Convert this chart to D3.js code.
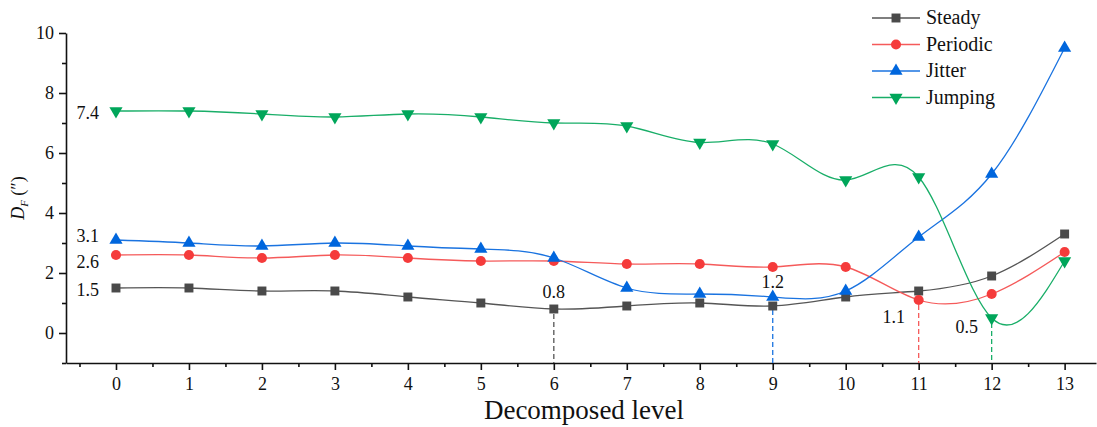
<!DOCTYPE html>
<meta charset="utf-8">
<title>DF vs decomposed level</title>
<style>
*{ margin: 0; padding: 0; }
body{ background: #fff; }
svg text{ font-family: "Liberation Serif", "DejaVu Serif", serif; fill: #111; }
.axis path, .axis line{ stroke: #111; stroke-width: 1.6; }
</style>
<body>
<script src="https://d3js.org/d3.v7.min.js"></script>
<div id="chart"></div>
<script>

var levels = [0,1,2,3,4,5,6,7,8,9,10,11,12,13];
var steady   = [1.5,1.5,1.4,1.4,1.2,1.0,0.8,0.9,1.0,0.9,1.2,1.4,1.9,3.3];
var periodic = [2.6,2.6,2.5,2.6,2.5,2.4,2.4,2.3,2.3,2.2,2.2,1.1,1.3,2.7];
var jitter   = [3.1,3.0,2.9,3.0,2.9,2.8,2.5,1.5,1.3,1.2,1.4,3.2,5.3,9.5];
var jumping  = [7.4,7.4,7.3,7.2,7.3,7.2,7.0,6.9,6.35,6.3,5.1,5.2,0.5,2.4];

var seriesNames = ["Steady", "Periodic", "Jitter", "Jumping"];
var xTicks = [0,1,2,3,4,5,6,7,8,9,10,11,12,13];
var yTicks = [0,2,4,6,8,10];

// labels beside the first points and near the minima
var startLabels = [
  {series: "Jumping", text: "7.4"},
  {series: "Jitter", text: "3.1"},
  {series: "Periodic", text: "2.6"},
  {series: "Steady", text: "1.5"}
];
var minLabels = [
  {series: "Steady", level: 6, text: "0.8"},
  {series: "Jitter", level: 9, text: "1.2"},
  {series: "Periodic", level: 11, text: "1.1"},
  {series: "Jumping", level: 12, text: "0.5"}
];

var width = 1097, height = 427;

var x = d3.scaleLinear().domain([-0.685, 13.43]).range([66, 1096]);
var y = d3.scaleLinear().domain([-1, 10]).range([363, 33]);

var svg = d3.select("#chart").append("svg")
  .attr("width", width)
  .attr("height", height);

var series = [
  {name: "Steady", values: steady, color: "#4a4a4a", line: "#555", symbol: d3.symbolSquare, size: 80, rot: 0},
  {name: "Periodic", values: periodic, color: "#f53b3b", line: "#f55a5a", symbol: d3.symbolCircle, size: 80, rot: 0},
  {name: "Jitter", values: jitter, color: "#0066dd", line: "#1a73e0", symbol: d3.symbolTriangle, size: 75, rot: 0},
  {name: "Jumping", values: jumping, color: "#00a65a", line: "#19ae68", symbol: d3.symbolTriangle, size: 75, rot: 180}
];
function byName(n){ return series.find(function(s){ return s.name == n; }); }

function serifAxis(g){
  g.attr("font-family", null).attr("font-size", null);
  g.selectAll("text").style("font-size", "18px");
}

// axes
svg.append("g").attr("class", "axis")
  .attr("transform", "translate(0," + y(-1) + ")")
  .call(d3.axisBottom(x).tickValues(xTicks).tickSize(7).tickPadding(7).tickSizeOuter(0))
  .call(serifAxis);
svg.append("g").attr("class", "axis")
  .attr("transform", "translate(0," + y(-1) + ")")
  .call(d3.axisBottom(x).tickValues(d3.range(-0.5, 13.5, 1)).tickSize(4).tickFormat("").tickSizeOuter(0))
  .select(".domain").remove();

svg.append("g").attr("class", "axis")
  .attr("transform", "translate(" + x.range()[0] + ",0)")
  .call(d3.axisLeft(y).tickValues(yTicks).tickSize(7).tickPadding(5).tickSizeOuter(0))
  .call(serifAxis);
svg.append("g").attr("class", "axis")
  .attr("transform", "translate(" + x.range()[0] + ",0)")
  .call(d3.axisLeft(y).tickValues([-1,1,3,5,7,9]).tickSize(4).tickFormat("").tickSizeOuter(0))
  .select(".domain").remove();

// axis titles
svg.append("text")
  .attr("x", 584).attr("y", 419)
  .attr("text-anchor", "middle")
  .style("font-size", "27px")
  .text("Decomposed level");

var yt = svg.append("text")
  .attr("transform", "translate(24,198) rotate(-90)")
  .attr("text-anchor", "middle")
  .style("font-size", "18px");
yt.append("tspan").style("font-style", "italic").text("D");
yt.append("tspan").style("font-style", "italic").style("font-size", "11px").attr("dy", 4).text("F");
yt.append("tspan").attr("dy", -4).text(" (″)");

// dashed drop lines
minLabels.forEach(function(m){
  var s = byName(m.series);
  svg.append("line")
    .attr("x1", x(m.level)).attr("x2", x(m.level))
    .attr("y1", y(s.values[m.level]) + 5).attr("y2", y(-1))
    .attr("stroke", s.line)
    .attr("stroke-width", 1.3)
    .attr("stroke-dasharray", "5,3");
});

var line = d3.line()
  .x(function(d, i){ return x(levels[i]); })
  .y(function(d){ return y(d); })
  .curve(d3.curveNatural);

series.forEach(function(s){
  svg.append("path")
    .attr("d", line(s.values))
    .attr("fill", "none")
    .attr("stroke", s.line)
    .attr("stroke-width", 1.3);
});

series.forEach(function(s){
  svg.selectAll(null)
    .data(s.values)
    .enter()
    .append("path")
    .attr("d", d3.symbol().type(s.symbol).size(s.size))
    .attr("transform", function(d, i){ return "translate(" + x(levels[i]) + "," + y(d) + ") rotate(" + s.rot + ")"; })
    .attr("fill", s.color);
});

// value labels
var startOffsets = {"Jumping": 8, "Jitter": 2, "Periodic": 13, "Steady": 8};
startLabels.forEach(function(l){
  var s = byName(l.series);
  svg.append("text")
    .attr("x", x(0) - 17).attr("y", y(s.values[0]) + startOffsets[l.series])
    .attr("text-anchor", "end")
    .style("font-size", "18px")
    .text(l.text);
});
var minOffsets = {"Steady": [0, -11], "Jitter": [0, -9], "Periodic": [-25, 23], "Jumping": [-25, 15]};
minLabels.forEach(function(m){
  var s = byName(m.series);
  var o = minOffsets[m.series];
  svg.append("text")
    .attr("x", x(m.level) + o[0]).attr("y", y(s.values[m.level]) + o[1])
    .attr("text-anchor", "middle")
    .style("font-size", "18px")
    .text(m.text);
});

// legend
var legend = svg.append("g").attr("transform", "translate(872,18)");
seriesNames.forEach(function(n, i){
  var s = byName(n);
  var g = legend.append("g").attr("transform", "translate(0," + (i * 26.5) + ")");
  g.append("line").attr("x1", 0).attr("x2", 48).attr("stroke", s.line).attr("stroke-width", 1.3);
  g.append("path")
    .attr("d", d3.symbol().type(s.symbol).size(s.size))
    .attr("transform", "translate(24,0) rotate(" + s.rot + ")")
    .attr("fill", s.color);
  g.append("text").attr("x", 54).attr("y", 6).style("font-size", "20px").text(n);
});

</script>
</body>
